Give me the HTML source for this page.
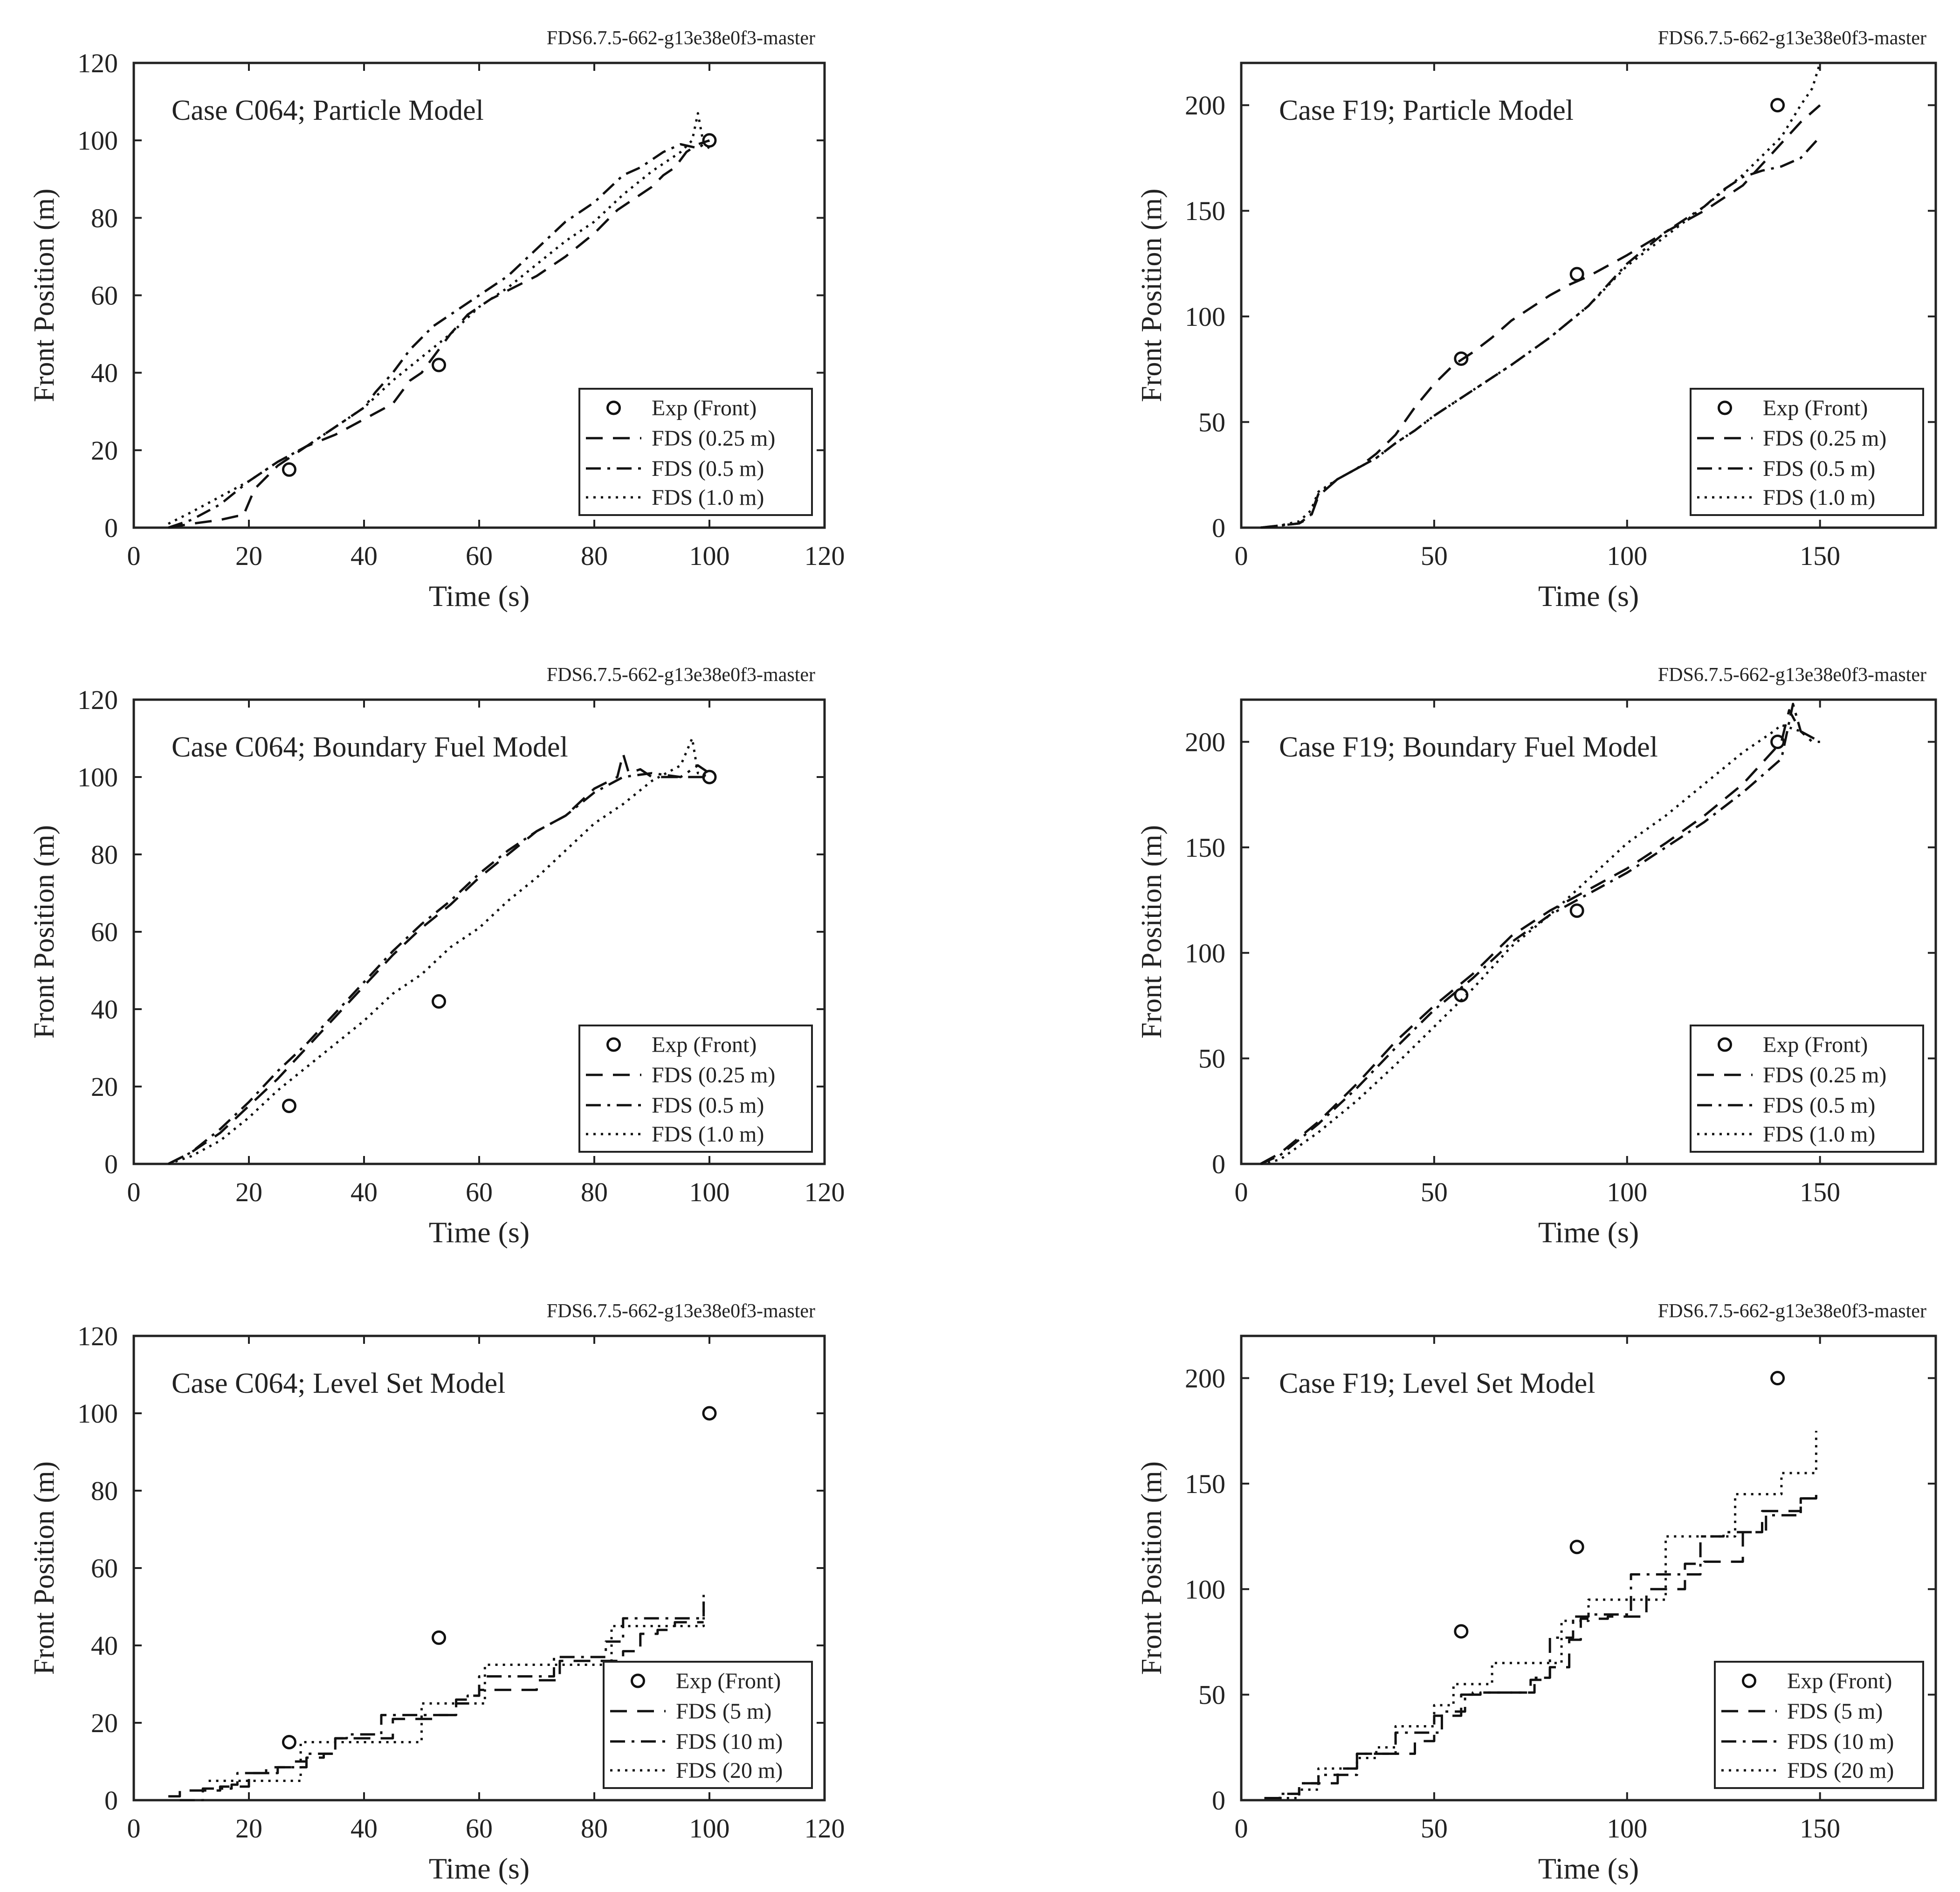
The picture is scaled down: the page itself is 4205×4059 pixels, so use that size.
<!DOCTYPE html>
<html><head><meta charset="utf-8">
<style>
html,body{margin:0;padding:0;background:#fff;}
svg{display:block;}
text{font-family:"Liberation Serif","DejaVu Serif",serif;fill:#222;}
</style></head>
<body>
<svg id="fig" xmlns="http://www.w3.org/2000/svg" width="4205" height="4059" viewBox="0 0 4205 4059"></svg>
<script>
// ---------- DATA ----------
const expC064T = [27, 53, 100];
const expC064Y = [15, 42, 100];
const expF19T = [57, 87, 139];
const expF19Y = [80, 120, 200];

// Panel 1: C064 particle
const p1aT = [6,10,15,18,19,21,25,30,35,40,45,48,50,52,55,58,62,66,70,75,80,84,86,88,90,92,94,96,98,100];
const p1aY = [0,1,2,3,3,10,16,21,24,28,32,38,40,44,50,55,59,62,65,70,76,82,84,86,88,91,93,97,99,100];
const p1bT = [6,10,15,20,25,30,35,40,42,45,48,52,55,60,65,70,75,80,85,88,92,95,98,100];
const p1bY = [0,2,6,12,17,21,26,31,35,40,46,52,55,60,65,72,79,84,91,93,97,99,98,100];
const p1cT = [6,10,15,20,25,30,35,40,45,50,55,60,65,70,75,80,85,90,95,97,98,99,100];
const p1cY = [1,4,8,12,17,21,26,31,38,44,50,57,62,68,74,79,86,92,97,100,107,99,98];

// Panel 2: F19 particle
const p2aT = [5,10,15,18,20,25,30,35,40,45,50,55,60,65,70,75,80,85,90,95,100,110,120,130,135,140,145,150];
const p2aY = [0,1,2,5,15,23,28,35,44,57,68,77,83,90,98,104,110,115,119,124,129,140,150,162,172,182,192,200];
const p2bT = [5,10,15,18,20,25,30,35,40,45,50,60,70,80,90,100,110,120,125,130,135,140,145,150];
const p2bY = [0,1,2,6,16,23,28,33,40,46,53,65,77,90,105,125,140,152,160,166,169,171,175,185];
const p2cT = [5,10,15,18,20,25,30,35,40,45,50,60,70,80,90,100,110,120,130,140,145,148,150];
const p2cY = [0,1,3,8,17,23,28,33,40,46,53,65,77,90,105,124,138,152,167,185,200,208,220];

// Panel 3: C064 boundary fuel
const p3aT = [6,10,15,20,25,30,35,40,45,50,55,60,65,70,75,80,84,85,86,88,90,95,100];
const p3aY = [0,3,8,15,22,30,38,46,54,61,67,74,80,86,90,97,100,106,101,102,100,100,100];
const p3bT = [6,10,15,20,25,30,35,40,45,50,55,60,65,70,75,80,85,90,95,98,100];
const p3bY = [0,3,9,16,24,31,39,47,55,62,68,75,81,86,90,96,100,101,100,103,101];
const p3cT = [6,10,15,20,25,30,35,40,45,50,55,60,65,70,75,80,85,90,95,97,98,100];
const p3cY = [0,2,6,12,19,25,31,37,44,49,56,61,68,74,81,88,93,99,103,110,101,100];

// Panel 4: F19 boundary fuel
const p4aT = [5,10,20,30,40,50,60,70,80,90,100,110,120,130,135,140,142,145,150];
const p4aY = [0,5,20,38,58,75,90,108,120,130,140,152,165,180,190,200,215,205,200];
const p4bT = [5,10,20,30,40,50,60,70,80,90,100,110,120,130,140,143,145,148,150];
const p4bY = [0,4,19,36,55,73,88,105,118,128,138,150,162,176,192,218,205,200,200];
const p4cT = [5,10,20,30,40,50,60,70,80,90,100,110,120,130,138,140,145];
const p4cY = [0,2,15,30,47,65,83,103,118,135,152,165,180,195,205,208,205];

// Panel 5: C064 level set (step series)
const p5aT = [6,8,12,15,19,20,23,28,30,33,35,42,45,50,53,56,58,60,67,70,72,74,80,85,88,91,94,99];
const p5aY = [1,2.5,2.5,3.5,3.5,7,8.5,8.5,11,12,16,16,21,21,22,26,27,28.5,28.5,31,31,36,36,38.5,43,44,46,46];
const p5bT = [8,12,17,18,22,25,27,28,30,34,35,37,41,43,53,56,58,60,72,73,80,82,85,97,99];
const p5bY = [0,3,4,7,7,8.5,8.5,10,12,12,16,17,17,22,22,25,27,32,32,37,37,41,47,47,52];
const p5cT = [13,28,29,49,50,60,61,82,83,98,99];
const p5cY = [5,5,15,15,25,25,35,35,45,45,54];

// Panel 6: F19 level set (step series)
const p6aT = [6,10,15,20,25,30,40,45,50,55,57,60,70,75,80,85,88,95,100,105,110,115,120,125,130,135,140,145,149];
const p6aY = [1,3,8,8,15,22,22,28,40,40,50,51,51,57,63,76,86,87,87,100,100,112,113,113,127,137,137,143,147];
const p6bT = [6,10,15,20,25,30,40,48,52,58,62,72,76,80,86,90,98,101,110,119,125,130,136,140,145,149];
const p6bY = [1,3,8,12,12,22,32,32,42,50,51,51,58,77,87,88,88,107,107,125,127,127,135,135,143,147];
const p6cT = [6,15,20,25,30,35,40,45,50,55,60,65,70,80,83,90,100,108,110,120,128,135,140,147,149];
const p6cY = [1,5,15,15,20,25,35,35,45,55,55,65,65,65,85,95,95,95,125,125,145,145,155,155,175];

const xTicksC = [0,20,40,60,80,100,120];
const yTicksC = [0,20,40,60,80,100,120];
const xTicksF = [0,50,100,150];
const yTicksF = [0,50,100,150,200];

const legendRes = ["Exp (Front)","FDS (0.25 m)","FDS (0.5 m)","FDS (1.0 m)"];
const legendLS = ["Exp (Front)","FDS (5 m)","FDS (10 m)","FDS (20 m)"];

// ---------- DRAW ----------
const NS = "http://www.w3.org/2000/svg";
const svg = document.getElementById("fig");
function mk(tag, attrs, parent){
  const e = document.createElementNS(NS, tag);
  for (const k in attrs) e.setAttribute(k, attrs[k]);
  (parent||svg).appendChild(e);
  return e;
}
const STY = {
  dash: "36 22",
  dashdot: "32 14 6 14",
  dot: "5 11"
};
const colX = [[287,1769],[2663,4153]];
const rowY = [[135,1132],[1501,2497],[2866,3862]];

function panel(cfg){
  const [L,R] = colX[cfg.col], [T,B] = rowY[cfg.row];
  const g = mk("g",{});
  
  
  const sx = v => L + (v - 0)/(cfg.xmax) * (R-L);
  const sy = v => B - (v - 0)/(cfg.ymax) * (B-T);

  const ver = mk("text",{x:R-20,y:T-40,"font-size":42,"text-anchor":"end"},g);
  ver.textContent = "FDS6.7.5-662-g13e38e0f3-master";
   

  cfg.xt.forEach(t=>{
    const x = sx(t);
    mk("line",{x1:x,y1:B,x2:x,y2:B-17,stroke:"#222","stroke-width":4},g);
    mk("line",{x1:x,y1:T,x2:x,y2:T+17,stroke:"#222","stroke-width":4},g);
    const lb = mk("text",{x:x,y:B+80,"font-size":58,"text-anchor":"middle"},g);
    lb.textContent = t;
     
  });
  cfg.yt.forEach(t=>{
    const y = sy(t);
    mk("line",{x1:L,y1:y,x2:L+17,y2:y,stroke:"#222","stroke-width":4},g);
    mk("line",{x1:R,y1:y,x2:R-17,y2:y,stroke:"#222","stroke-width":4},g);
    const lb = mk("text",{x:L-34,y:y+20,"font-size":58,"text-anchor":"end"},g);
    lb.textContent = t;
     
  });
  const fr = mk("rect",{x:L,y:T,width:R-L,height:B-T,fill:"none",stroke:"#222","stroke-width":5},g);
   

  const xl = mk("text",{x:(L+R)/2,y:B+168,"font-size":64,"text-anchor":"middle"},g);
  xl.textContent = "Time (s)";
   
  const yx = L-172, ym = (T+B)/2;
  const yl = mk("text",{x:yx,y:ym,"font-size":62,"text-anchor":"middle",transform:`rotate(-90 ${yx} ${ym})`},g);
  yl.textContent = "Front Position (m)";
   

  const tt = mk("text",{x:L+81,y:T+122,"font-size":62},g);
  tt.textContent = cfg.title;
   

  const styles = ["dash","dashdot","dot"];
  cfg.series.forEach((s,i)=>{
    const pts = [];
    for (let k=0;k<s[0].length;k++){
      if (cfg.step && k>0) pts.push(sx(s[0][k]).toFixed(1)+","+sy(s[1][k-1]).toFixed(1));
      pts.push(sx(s[0][k]).toFixed(1)+","+sy(s[1][k]).toFixed(1));
    }
    const pl = mk("polyline",{points:pts.join(" "),fill:"none",stroke:"#111","stroke-width":5,"stroke-dasharray":STY[styles[i]],"stroke-linejoin":"round"},g);
     
  });
  cfg.exp[0].forEach((t,k)=>{
    const c = mk("circle",{cx:sx(t),cy:sy(cfg.exp[1][k]),r:13,fill:"none",stroke:"#111","stroke-width":5},g);
     
  });

  const lw = cfg.step ? 447 : 499;
  const lx = R - 27 - lw, ly = T + 699, lh = 271;
  const lg = mk("g",{},g);
   
  mk("rect",{x:lx,y:ly,width:lw,height:lh,fill:"#fff",stroke:"#222","stroke-width":4},lg);
  const rows = [41,106,171,233];
  const sampleL = lx+14, sampleR = lx+133, textX = lx+155;
  cfg.legend.forEach((lab,i)=>{
    const cy = ly+rows[i];
    if (i===0){
      mk("circle",{cx:(sampleL+sampleR)/2,cy:cy,r:13,fill:"none",stroke:"#111","stroke-width":5},lg);
    } else {
      mk("line",{x1:sampleL,y1:cy,x2:sampleR,y2:cy,stroke:"#111","stroke-width":5,"stroke-dasharray":STY[styles[i-1]]},lg);
    }
    const te = mk("text",{x:textX,y:cy+16,"font-size":48},lg);
    te.textContent = lab;
     
  });
}

panel({name:"panel-c064-particle",col:0,row:0,xmax:120,ymax:120,xt:xTicksC,yt:yTicksC,title:"Case C064; Particle Model",
  series:[[p1aT,p1aY],[p1bT,p1bY],[p1cT,p1cY]],exp:[expC064T,expC064Y],legend:legendRes});
panel({name:"panel-f19-particle",col:1,row:0,xmax:180,ymax:220,xt:xTicksF,yt:yTicksF,title:"Case F19; Particle Model",
  series:[[p2aT,p2aY],[p2bT,p2bY],[p2cT,p2cY]],exp:[expF19T,expF19Y],legend:legendRes});
panel({name:"panel-c064-boundary",col:0,row:1,xmax:120,ymax:120,xt:xTicksC,yt:yTicksC,title:"Case C064; Boundary Fuel Model",
  series:[[p3aT,p3aY],[p3bT,p3bY],[p3cT,p3cY]],exp:[expC064T,expC064Y],legend:legendRes});
panel({name:"panel-f19-boundary",col:1,row:1,xmax:180,ymax:220,xt:xTicksF,yt:yTicksF,title:"Case F19; Boundary Fuel Model",
  series:[[p4aT,p4aY],[p4bT,p4bY],[p4cT,p4cY]],exp:[expF19T,expF19Y],legend:legendRes});
panel({name:"panel-c064-levelset",col:0,row:2,xmax:120,ymax:120,xt:xTicksC,yt:yTicksC,title:"Case C064; Level Set Model",step:true,
  series:[[p5aT,p5aY],[p5bT,p5bY],[p5cT,p5cY]],exp:[expC064T,expC064Y],legend:legendLS});
panel({name:"panel-f19-levelset",col:1,row:2,xmax:180,ymax:220,xt:xTicksF,yt:yTicksF,title:"Case F19; Level Set Model",step:true,
  series:[[p6aT,p6aY],[p6bT,p6bY],[p6cT,p6cY]],exp:[expF19T,expF19Y],legend:legendLS});
</script>
</body></html>
